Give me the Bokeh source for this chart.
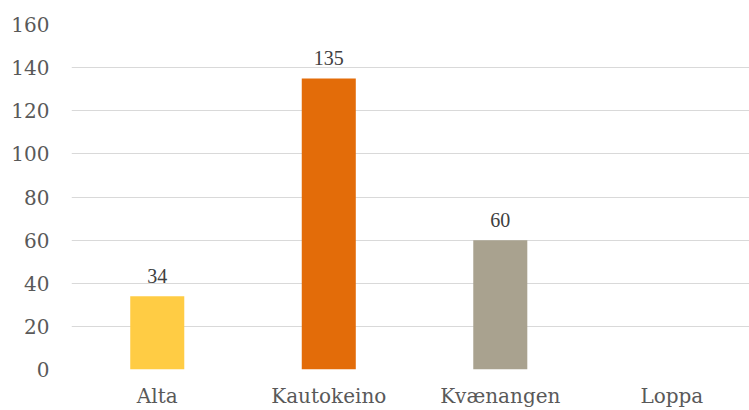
from bokeh.plotting import figure
from bokeh.models import ColumnDataSource, Range1d, FixedTicker, LabelSet
from bokeh.embed import file_html
from bokeh.resources import INLINE

categories = ["Alta", "Kautokeino", "Kvænangen", "Loppa"]
values = [34, 135, 60, 0]
colors = ["#FFCC44", "#E36C09", "#A9A28F", "#A9A28F"]
y_ticks = [0, 20, 40, 60, 80, 100, 120, 140, 160]

FONT = "DejaVu Serif"

xpos = list(range(len(categories)))
src = ColumnDataSource(dict(x=xpos, top=values, color=colors))
lab_src = ColumnDataSource(dict(
    x=[x for x, v in zip(xpos, values) if v > 0],
    y=[v for v in values if v > 0],
    label=[str(v) for v in values if v > 0]))

p = figure(width=749, height=410, output_backend="svg", toolbar_location=None,
           x_range=Range1d(-0.5, 3.453), y_range=Range1d(0, 160),
           min_border_left=71, min_border_right=0, min_border_top=24,
           min_border_bottom=30)
p.outline_line_color = None
p.background_fill_color = "white"
p.border_fill_color = "white"

p.vbar(x="x", top="top", width=0.315, color="color", source=src, line_color=None)

labels = LabelSet(x="x", y="y", text="label", source=lab_src, text_align="center",
                  text_baseline="alphabetic", y_offset=13, text_font=FONT,
                  text_font_size="20px", text_color="#404040")
p.add_layout(labels)

p.xgrid.visible = False
p.ygrid.grid_line_color = "#d9d9d9"
p.ygrid.grid_line_width = 1
p.yaxis.ticker = FixedTicker(ticks=y_ticks)
p.xaxis.ticker = FixedTicker(ticks=xpos)
p.xaxis.major_label_overrides = {i: c for i, c in enumerate(categories)}

for ax in (p.xaxis, p.yaxis):
    ax.axis_line_color = None
    ax.major_tick_line_color = None
    ax.minor_tick_line_color = None
    ax.major_label_text_font = FONT
    ax.major_label_text_font_size = "20px"
    ax.major_label_text_color = "#595959"
p.yaxis.major_label_standoff = 16
p.xaxis.major_label_standoff = 8

open("out.html", "w").write(file_html(p, INLINE))
